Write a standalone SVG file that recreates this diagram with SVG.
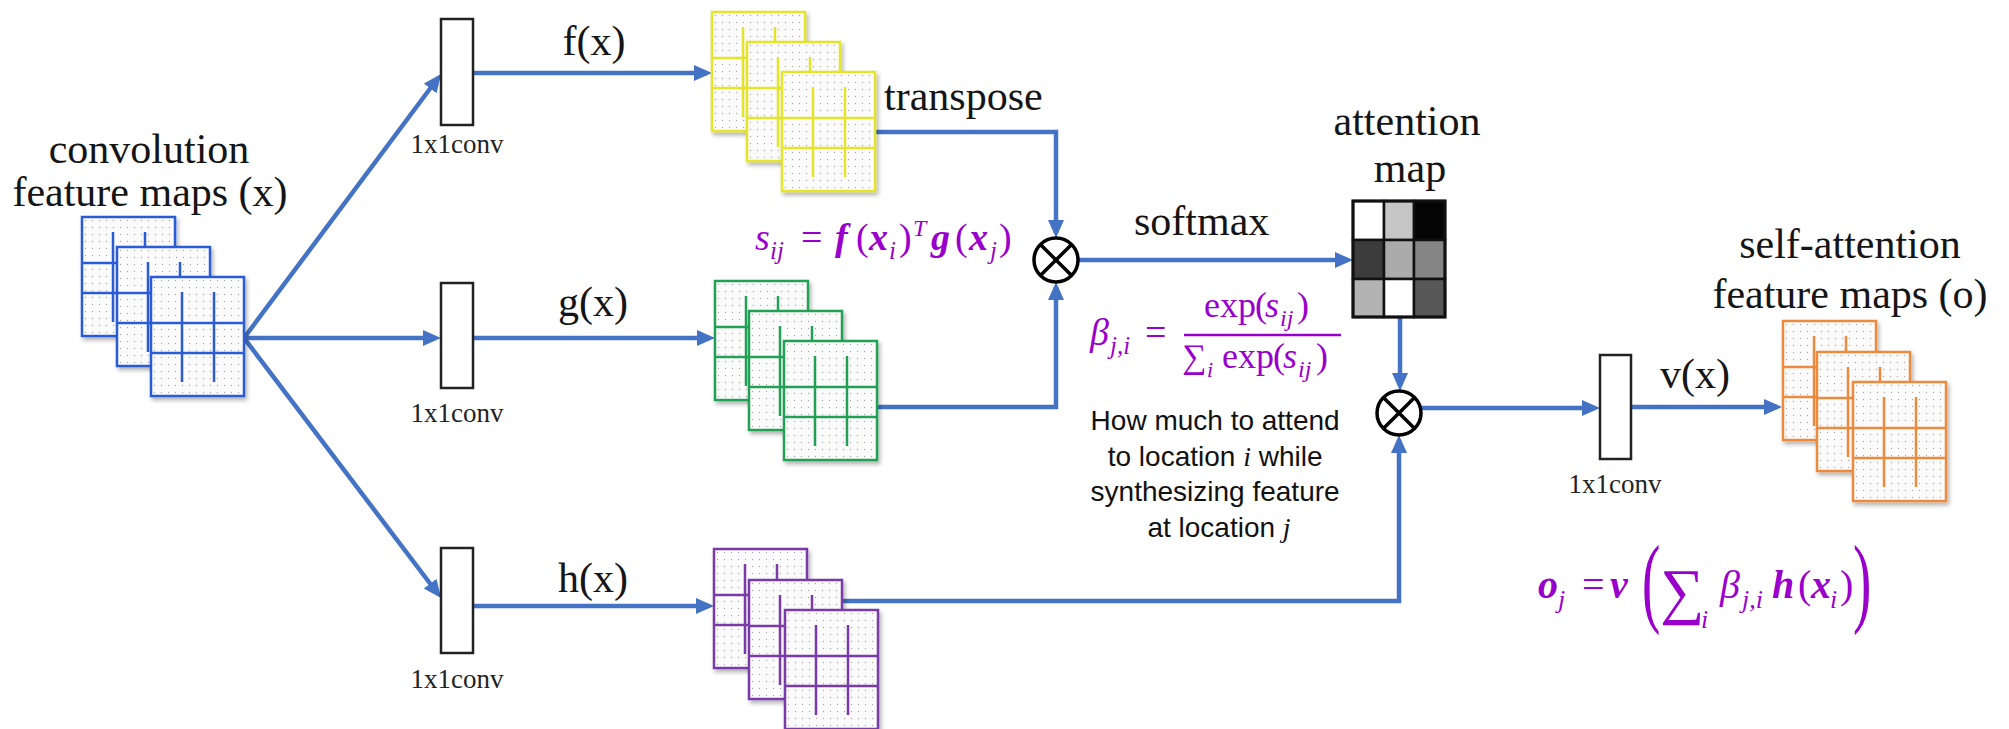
<svg xmlns="http://www.w3.org/2000/svg" xmlns:xlink="http://www.w3.org/1999/xlink" width="2009" height="729" viewBox="0 0 2009 729">
<style>
.lbl{font-family:"Liberation Serif","Times New Roman",serif;font-size:42px;fill:#151515}
.conv{font-family:"Liberation Serif","Times New Roman",serif;font-size:27px;fill:#222}
.note{font-family:"Liberation Sans",Arial,sans-serif;font-size:28px;fill:#111}
.m{font-family:"Liberation Serif","Times New Roman",serif;fill:#9900CC}
.it{font-style:italic}
.bi{font-style:italic;font-weight:bold}
.box{fill:#fff;stroke:#222;stroke-width:2.5}
.wire{fill:none;stroke:#4472C4;stroke-width:4.5;marker-end:url(#arr)}
.blue{color:#2A5BD7}
.yellow{color:#E4E42A}
.green{color:#24A157}
.purple{color:#7A3AA8}
.orange{color:#EE8A3C}
.sheet{filter:url(#sh)}
.op{fill:#fff;stroke:#000;stroke-width:3.5}
.cell{stroke:#111;stroke-width:2.5}
</style>
<defs>
<pattern id="dots" width="7" height="7" patternUnits="userSpaceOnUse">
<rect width="7" height="7" fill="#fbfbfb"/>
<circle cx="3.5" cy="3.5" r="0.7" fill="#ababab"/>
</pattern>
<filter id="sh" x="-10%" y="-10%" width="130%" height="130%">
<feDropShadow dx="2" dy="3" stdDeviation="2" flood-color="#000" flood-opacity="0.3"/>
</filter>
<marker id="arr" markerUnits="userSpaceOnUse" markerWidth="20" markerHeight="18" refX="13" refY="8" orient="auto">
<path d="M0,0 L18,8 L0,16 z" fill="#4472C4"/>
</marker>
<symbol id="sheet" width="93" height="119" overflow="visible">
<rect x="0" y="0" width="93" height="119" fill="url(#dots)" stroke="currentColor" stroke-width="2.5"/>
<path d="M0,46H93M0,76H93M31,15V105M63,15V105" stroke="currentColor" stroke-width="2.5" fill="none"/>
</symbol>
</defs>
<rect width="2009" height="729" fill="#fff"/>

<g id="connectors">
<line class="wire" x1="244" y1="338" x2="438" y2="78"/>
<line class="wire" x1="244" y1="338" x2="436" y2="338"/>
<line class="wire" x1="244" y1="338" x2="438" y2="594"/>
<line class="wire" x1="473" y1="73" x2="707" y2="73"/>
<line class="wire" x1="473" y1="338" x2="710" y2="338"/>
<line class="wire" x1="473" y1="606" x2="709" y2="606"/>
<path class="wire" d="M875,132 H1056 V233"/>
<path class="wire" d="M877,407 H1056 V287"/>
<line class="wire" x1="1078" y1="260" x2="1348" y2="260"/>
<line class="wire" x1="1400" y1="317" x2="1400" y2="386"/>
<path class="wire" d="M843,601 H1399 V440"/>
<line class="wire" x1="1421" y1="408" x2="1595" y2="408"/>
<line class="wire" x1="1631" y1="407" x2="1777" y2="407"/>
</g>

<g id="input-maps">
<text class="lbl" x="149" y="163" text-anchor="middle">convolution</text>
<text class="lbl" x="150" y="206" text-anchor="middle">feature maps (x)</text>
<use href="#sheet" x="82" y="217" class="blue sheet"/>
<use href="#sheet" x="117" y="247" class="blue sheet"/>
<use href="#sheet" x="151" y="277" class="blue sheet"/>
</g>

<g id="conv-f">
<rect class="box" x="441" y="19" width="32" height="106"/>
<text class="conv" x="457" y="153" text-anchor="middle">1x1conv</text>
</g>
<g id="conv-g">
<rect class="box" x="441" y="283" width="32" height="105"/>
<text class="conv" x="457" y="422" text-anchor="middle">1x1conv</text>
</g>
<g id="conv-h">
<rect class="box" x="441" y="548" width="32" height="105"/>
<text class="conv" x="457" y="688" text-anchor="middle">1x1conv</text>
</g>

<g id="labels">
<text class="lbl" x="594" y="55" text-anchor="middle">f(x)</text>
<text class="lbl" x="593" y="316" text-anchor="middle">g(x)</text>
<text class="lbl" x="593" y="592" text-anchor="middle">h(x)</text>
<text class="lbl" x="884" y="110">transpose</text>
<text class="lbl" x="1134" y="235">softmax</text>
<text class="lbl" x="1695" y="388" text-anchor="middle">v(x)</text>
</g>

<g id="f-maps">
<use href="#sheet" x="712" y="12" class="yellow sheet"/>
<use href="#sheet" x="747" y="42" class="yellow sheet"/>
<use href="#sheet" x="782" y="72" class="yellow sheet"/>
</g>
<g id="g-maps">
<use href="#sheet" x="715" y="281" class="green sheet"/>
<use href="#sheet" x="749" y="311" class="green sheet"/>
<use href="#sheet" x="784" y="341" class="green sheet"/>
</g>
<g id="h-maps">
<use href="#sheet" x="714" y="549" class="purple sheet"/>
<use href="#sheet" x="749" y="580" class="purple sheet"/>
<use href="#sheet" x="785" y="610" class="purple sheet"/>
</g>

<g id="mult-1">
<circle class="op" cx="1056" cy="260" r="22"/>
<path d="M1040.4,244.4 L1071.6,275.6 M1071.6,244.4 L1040.4,275.6" stroke="#000" stroke-width="3.5"/>
</g>

<g id="attention-map">
<text class="lbl" x="1407" y="135" text-anchor="middle">attention</text>
<text class="lbl" x="1410" y="182" text-anchor="middle">map</text>
<rect class="cell" x="1353" y="201" width="31" height="39" fill="#ffffff"/>
<rect class="cell" x="1384" y="201" width="30" height="39" fill="#c6c6c6"/>
<rect class="cell" x="1414" y="201" width="31" height="39" fill="#050505"/>
<rect class="cell" x="1353" y="240" width="31" height="39" fill="#3c3c3c"/>
<rect class="cell" x="1384" y="240" width="30" height="39" fill="#ababab"/>
<rect class="cell" x="1414" y="240" width="31" height="39" fill="#858585"/>
<rect class="cell" x="1353" y="279" width="31" height="38" fill="#b3b3b3"/>
<rect class="cell" x="1384" y="279" width="30" height="38" fill="#ffffff"/>
<rect class="cell" x="1414" y="279" width="31" height="38" fill="#585858"/>
<rect x="1353" y="201" width="92" height="116" fill="none" stroke="#111" stroke-width="3"/>
</g>

<g id="mult-2">
<circle class="op" cx="1399" cy="413" r="22"/>
<path d="M1383.4,397.4 L1414.6,428.6 M1414.6,397.4 L1383.4,428.6" stroke="#000" stroke-width="3.5"/>
</g>

<g id="conv-v">
<rect class="box" x="1600" y="355" width="31" height="104"/>
<text class="conv" x="1615" y="493" text-anchor="middle">1x1conv</text>
</g>

<g id="output-maps">
<text class="lbl" x="1850" y="258" text-anchor="middle">self-attention</text>
<text class="lbl" x="1850" y="308" text-anchor="middle">feature maps (o)</text>
<use href="#sheet" x="1783" y="321" class="orange sheet"/>
<use href="#sheet" x="1817" y="352" class="orange sheet"/>
<use href="#sheet" x="1853" y="382" class="orange sheet"/>
</g>

<g id="formula-s">
<text class="m" font-size="38">
<tspan x="755" y="250" class="it">s</tspan>
<tspan x="770" y="259" font-size="25" class="it">ij</tspan>
<tspan x="801" y="250">=</tspan>
<tspan x="835" y="250" class="bi">f</tspan>
<tspan x="856" y="250">(</tspan>
<tspan x="869" y="250" class="bi">x</tspan>
<tspan x="889" y="259" font-size="25" class="it">i</tspan>
<tspan x="899" y="250">)</tspan>
<tspan x="913" y="236" font-size="24" class="it">T</tspan>
<tspan x="931" y="250" class="bi">g</tspan>
<tspan x="955" y="250">(</tspan>
<tspan x="969" y="250" class="bi">x</tspan>
<tspan x="990" y="259" font-size="25" class="it">j</tspan>
<tspan x="999" y="250">)</tspan>
</text>
</g>

<g id="formula-beta">
<text class="m" font-size="38">
<tspan x="1090" y="345" class="it">β</tspan>
<tspan x="1110" y="354" font-size="25" class="it">j,i</tspan>
<tspan x="1145" y="345">=</tspan>
</text>
<line x1="1184" y1="335" x2="1341" y2="335" stroke="#9900CC" stroke-width="2.5"/>
<text class="m" font-size="36">
<tspan x="1204" y="317">exp</tspan>
<tspan x="1255" y="317">(</tspan>
<tspan x="1265" y="317" class="it">s</tspan>
<tspan x="1280" y="326" font-size="24" class="it">ij</tspan>
<tspan x="1297" y="317">)</tspan>
<tspan x="1182" y="368" font-size="34">∑</tspan>
<tspan x="1207" y="377" font-size="22" class="it">i</tspan>
<tspan x="1222" y="368">exp</tspan>
<tspan x="1273" y="368">(</tspan>
<tspan x="1283" y="368" class="it">s</tspan>
<tspan x="1298" y="377" font-size="24" class="it">ij</tspan>
<tspan x="1316" y="368">)</tspan>
</text>
</g>

<g id="note">
<text class="note" text-anchor="middle">
<tspan x="1219" y="430">How much to attend</tspan>
<tspan x="1219" y="466">to location <tspan font-family="Liberation Serif, serif" font-style="italic">i</tspan> while</tspan>
<tspan x="1219" y="501">synthesizing feature</tspan>
<tspan x="1219" y="537">at location <tspan font-family="Liberation Serif, serif" font-style="italic">j</tspan></tspan>
</text>
</g>

<g id="formula-o">
<text class="m" font-size="40">
<tspan x="1538" y="598" class="bi">o</tspan>
<tspan x="1558" y="608" font-size="26" class="it">j</tspan>
<tspan x="1582" y="598">=</tspan>
<tspan x="1610" y="598" class="bi">v</tspan>
<tspan x="1660" y="612" font-size="62">∑</tspan>
<tspan x="1701" y="628" font-size="26" class="it">i</tspan>
<tspan x="1720" y="598" class="it">β</tspan>
<tspan x="1742" y="608" font-size="26" class="it">j,i</tspan>
<tspan x="1772" y="598" class="bi">h</tspan>
<tspan x="1798" y="598">(</tspan>
<tspan x="1811" y="598" class="bi">x</tspan>
<tspan x="1830" y="608" font-size="26" class="it">i</tspan>
<tspan x="1840" y="598">)</tspan>
</text>
<text class="m" font-size="100" transform="translate(1642,614) scale(0.55,1)">(</text>
<text class="m" font-size="100" transform="translate(1853,614) scale(0.55,1)">)</text>
</g>
</svg>
